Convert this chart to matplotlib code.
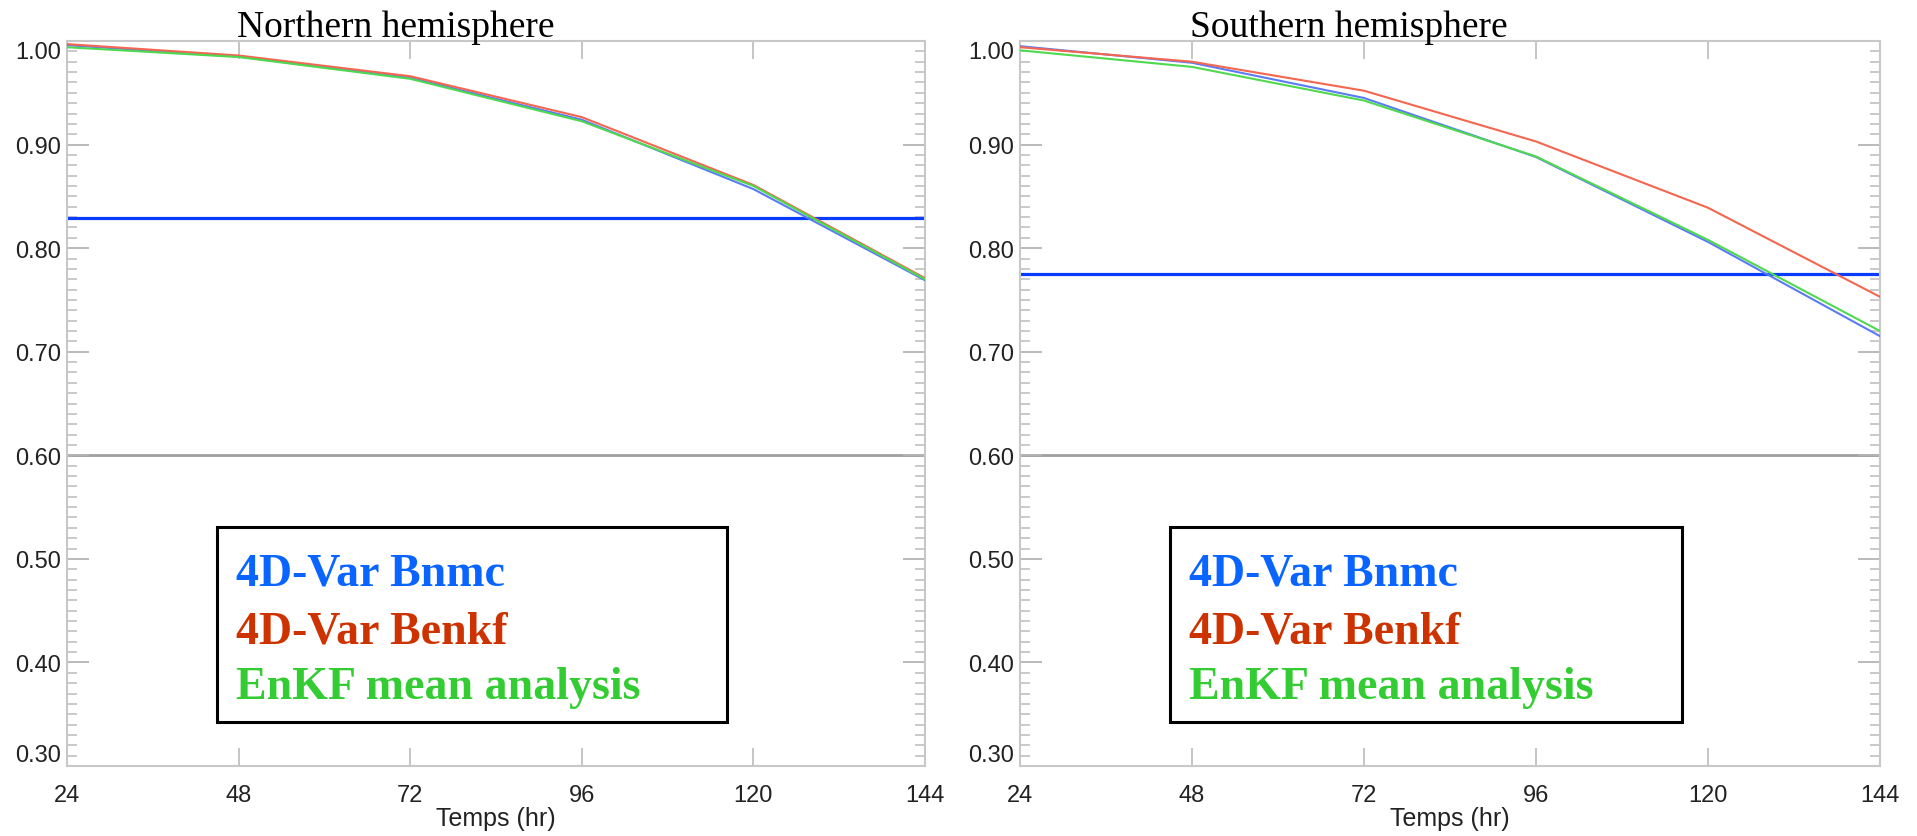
import matplotlib
matplotlib.use("Agg")
import matplotlib.pyplot as plt
from matplotlib.ticker import MultipleLocator
from matplotlib.patches import Rectangle

# Forecast lead times (hours)
lead_hours = [24, 48, 72, 96, 120, 144]

# Anomaly correlation, northern hemisphere
north_bnmc = [0.996, 0.985, 0.9645, 0.924, 0.857, 0.769]
north_benkf = [0.997, 0.986, 0.966, 0.9265, 0.861, 0.771]
north_enkf = [0.994, 0.9845, 0.9635, 0.9225, 0.860, 0.770]

# Anomaly correlation, southern hemisphere
south_bnmc = [0.995, 0.979, 0.945, 0.888, 0.806, 0.715]
south_benkf = [0.994, 0.980, 0.952, 0.903, 0.839, 0.753]
south_enkf = [0.991, 0.975, 0.9425, 0.8885, 0.808, 0.720]

north_threshold = 0.829
south_threshold = 0.775
reference_level = 0.60

y_ticks = [0.30, 0.40, 0.50, 0.60, 0.70, 0.80, 0.90, 1.00]
x_ticks = [24, 48, 72, 96, 120, 144]

series_labels = ["4D-Var Bnmc", "4D-Var Benkf", "EnKF mean analysis"]
line_colors = ["#5b7bf5", "#f4664f", "#4fd94f"]
text_colors = ["#0a64ff", "#cc3300", "#33cc33"]

SANS = ["Liberation Sans", "DejaVu Sans"]
SERIF = ["Liberation Serif", "DejaVu Serif"]

W, H, DPI = 1917, 837, 100
fig = plt.figure(figsize=(W / DPI, H / DPI), dpi=DPI)
fig.patch.set_facecolor("white")

panels = [
    dict(rect=(67, 42, 925, 767), title="Northern hemisphere",
         data=[north_bnmc, north_benkf, north_enkf], thr=north_threshold),
    dict(rect=(1020, 42, 1880, 767), title="Southern hemisphere",
         data=[south_bnmc, south_benkf, south_enkf], thr=south_threshold),
]

for p in panels:
    x0, y0, x1, y1 = p["rect"]
    ax = fig.add_axes([x0 / W, 1 - y1 / H, (x1 - x0) / W, (y1 - y0) / H])
    ax.set_xlim(24, 144)
    ax.set_ylim(0.30, 1.00)

    ax.axhline(reference_level, color="#a0a0a0", lw=2.0, zorder=1)
    ax.axhline(p["thr"], color="#0a3cff", lw=2.3, zorder=2)
    for vals, col in zip(p["data"], line_colors):
        ax.plot(lead_hours, vals, color=col, lw=1.5, zorder=3)

    for s in ax.spines.values():
        s.set_color("#c8c8c8")
        s.set_linewidth(1.5)

    ax.set_xticks(x_ticks)
    ax.set_xticklabels([str(v) for v in x_ticks], family=SANS)
    ax.set_yticks(y_ticks)
    ax.set_yticklabels(["%.2f" % v for v in y_ticks], family=SANS)
    ax.yaxis.set_minor_locator(MultipleLocator(0.01))

    ax.tick_params(axis="y", which="major", direction="in", length=16, width=1.3,
                   color="#b4b4b4", left=True, right=True, labelsize=17,
                   labelcolor="#222222", pad=4)
    ax.tick_params(axis="y", which="minor", direction="in", length=7, width=1.2,
                   color="#c0c0c0", left=True, right=True)
    ax.tick_params(axis="x", which="major", direction="in", length=13, width=1.3,
                   color="#c0c0c0", top=True, bottom=True, labelsize=17,
                   labelcolor="#222222", pad=13)
    ax.tick_params(axis="x", which="minor", bottom=False, top=False)

    yt = ax.yaxis.get_major_ticks()
    yt[0].label1.set_verticalalignment("bottom")
    yt[-1].label1.set_verticalalignment("top")

    ax.set_xlabel("Temps (hr)", family=SANS, fontsize=18, color="#222222", labelpad=0)

    ax.text(0.198, 1.0 + 5 / 725, p["title"], transform=ax.transAxes,
            ha="left", va="baseline", family=SERIF, fontsize=27, color="black")

    ax.add_patch(Rectangle((0.1748, 0.0607), 0.7692 - 0.1748, 0.3297 - 0.0607,
                           transform=ax.transAxes, facecolor="white",
                           edgecolor="black", lw=2.2, zorder=5))
    for lab, col, yb in zip(series_labels, text_colors, [0.2497, 0.1697, 0.0938]):
        ax.text(0.197, yb, lab, transform=ax.transAxes, ha="left",
                va="baseline", family=SERIF, fontweight="bold", fontsize=33,
                color=col, zorder=6)

fig.savefig("out.png", dpi=DPI, facecolor="white")
